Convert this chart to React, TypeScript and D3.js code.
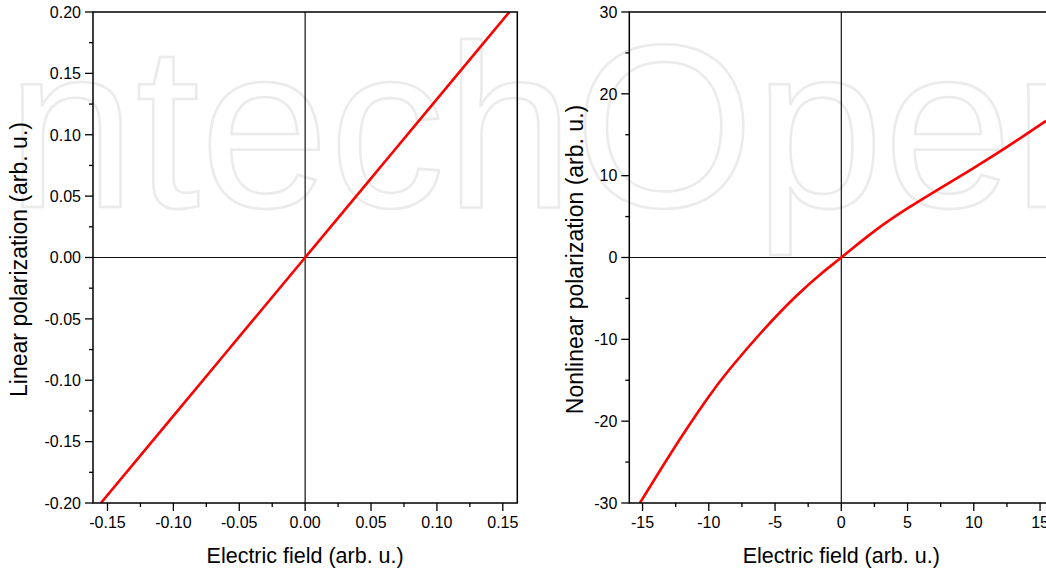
import React from 'react';
import * as d3 from 'd3';

// ---- Data ----
const linearField = [-0.155, -0.1, -0.05, 0, 0.05, 0.1, 0.155];
const linearPol = [-0.2, -0.129, -0.0645, 0, 0.0645, 0.129, 0.2];

const nonlinField = [-15.2, -13.4, -11.9, -10.05, -8.4, -5.9, -3.4, -1.5, 0, 2.4, 4.9, 7.45, 9.95, 12.45, 15.45];
const nonlinPol = [-30.0, -25.3, -21.5, -17.1, -13.6, -8.9, -4.7, -1.95, 0, 3.1, 5.9, 8.45, 10.9, 13.45, 16.7];

const leftXTicks = [-0.15, -0.1, -0.05, 0, 0.05, 0.1, 0.15];
const leftXMinor = [-0.125, -0.075, -0.025, 0.025, 0.075, 0.125];
const leftYTicks = [-0.2, -0.15, -0.1, -0.05, 0, 0.05, 0.1, 0.15, 0.2];
const leftYMinor = [-0.175, -0.125, -0.075, -0.025, 0.025, 0.075, 0.125, 0.175];

const rightXTicks = [-15, -10, -5, 0, 5, 10, 15];
const rightXMinor = [-12.5, -7.5, -2.5, 2.5, 7.5, 12.5];
const rightYTicks = [-30, -20, -10, 0, 10, 20, 30];
const rightYMinor = [-25, -15, -5, 5, 15, 25];

const FONT = '"Liberation Sans", Arial, Helvetica, sans-serif';

type PanelProps = {
  id: string;
  px: [number, number];
  py: [number, number];
  xDomain: [number, number];
  yDomain: [number, number];
  xTicks: number[];
  xMinor: number[];
  yTicks: number[];
  yMinor: number[];
  fmt: (v: number) => string;
  xs: number[];
  ys: number[];
  xTitle: string;
  yTitle: string;
  yTitleX: number;
};

function Panel(p: PanelProps) {
  const x = d3.scaleLinear().domain(p.xDomain).range(p.px);
  const y = d3.scaleLinear().domain(p.yDomain).range([p.py[1], p.py[0]]);
  const pts = p.xs.map((v, i) => [v, p.ys[i]] as [number, number]);
  const line = d3
    .line<[number, number]>()
    .x((d) => x(d[0]))
    .y((d) => y(d[1]))
    .curve(d3.curveNatural);
  const [l, r] = p.px;
  const [t, b] = p.py;
  const major = 8;
  const minor = 4;
  return (
    <g>
      <defs>
        <clipPath id={p.id}>
          <rect x={l} y={t} width={r - l} height={b - t} />
        </clipPath>
      </defs>
      {/* zero lines */}
      <line x1={x(0)} x2={x(0)} y1={t} y2={b} stroke="#111" strokeWidth={1.2} />
      <line x1={l} x2={r} y1={y(0)} y2={y(0)} stroke="#111" strokeWidth={1.2} />
      {/* curve */}
      <path d={line(pts) || ''} fill="none" stroke="#ff0000" strokeWidth={2.6} clipPath={`url(#${p.id})`} />
      {/* frame */}
      <rect x={l} y={t} width={r - l} height={b - t} fill="none" stroke="#000" strokeWidth={1.5} />
      {/* x ticks */}
      {p.xTicks.map((v) => (
        <g key={'xt' + v}>
          <line x1={x(v)} x2={x(v)} y1={b} y2={b + major} stroke="#000" strokeWidth={1.3} />
          <text x={x(v)} y={b + 25} textAnchor="middle" fontSize={16} fontFamily={FONT} fill="#000">
            {p.fmt(v)}
          </text>
        </g>
      ))}
      {p.xMinor.map((v) => (
        <line key={'xm' + v} x1={x(v)} x2={x(v)} y1={b} y2={b + minor} stroke="#000" strokeWidth={1.3} />
      ))}
      {/* y ticks */}
      {p.yTicks.map((v) => (
        <g key={'yt' + v}>
          <line x1={l - major} x2={l} y1={y(v)} y2={y(v)} stroke="#000" strokeWidth={1.3} />
          <text x={l - 12} y={y(v)} dy="0.36em" textAnchor="end" fontSize={16} fontFamily={FONT} fill="#000">
            {p.fmt(v)}
          </text>
        </g>
      ))}
      {p.yMinor.map((v) => (
        <line key={'ym' + v} x1={l - minor} x2={l} y1={y(v)} y2={y(v)} stroke="#000" strokeWidth={1.3} />
      ))}
      {/* titles */}
      <text x={x(0)} y={b + 60} textAnchor="middle" fontSize={21.5} fontFamily={FONT} fill="#000">
        {p.xTitle}
      </text>
      <text
        transform={`translate(${p.yTitleX},${(t + b) / 2 + 2}) rotate(-90)`}
        textAnchor="middle"
        fontSize={23}
        fontFamily={FONT}
        fill="#000"
      >
        {p.yTitle}
      </text>
    </g>
  );
}

export default function App() {
  return (
    <svg
      width={1046}
      height={573}
      style={{ position: 'absolute', left: 0, top: 0, background: '#fff' }}
    >
      <rect x={0} y={0} width={1046} height={573} fill="#fff" />
      <text
        x={-58}
        y={207}
        fontSize={232}
        fontFamily={FONT}
        fill="none"
        stroke="#ebebeb"
        strokeWidth={2.5}
      >
        IntechOpen
      </text>
      <Panel
        id="clipL"
        px={[93, 517.3]}
        py={[12, 503]}
        xDomain={[-0.161, 0.161]}
        yDomain={[-0.2, 0.2]}
        xTicks={leftXTicks}
        xMinor={leftXMinor}
        yTicks={leftYTicks}
        yMinor={leftYMinor}
        fmt={(v) => v.toFixed(2)}
        xs={linearField}
        ys={linearPol}
        xTitle="Electric field (arb. u.)"
        yTitle="Linear polarization (arb. u.)"
        yTitleX={27}
      />
      <Panel
        id="clipR"
        px={[629.3, 1053.3]}
        py={[12, 503]}
        xDomain={[-16, 16]}
        yDomain={[-30, 30]}
        xTicks={rightXTicks}
        xMinor={rightXMinor}
        yTicks={rightYTicks}
        yMinor={rightYMinor}
        fmt={(v) => String(v)}
        xs={nonlinField}
        ys={nonlinPol}
        xTitle="Electric field (arb. u.)"
        yTitle="Nonlinear polarization (arb. u.)"
        yTitleX={583}
      />
    </svg>
  );
}
